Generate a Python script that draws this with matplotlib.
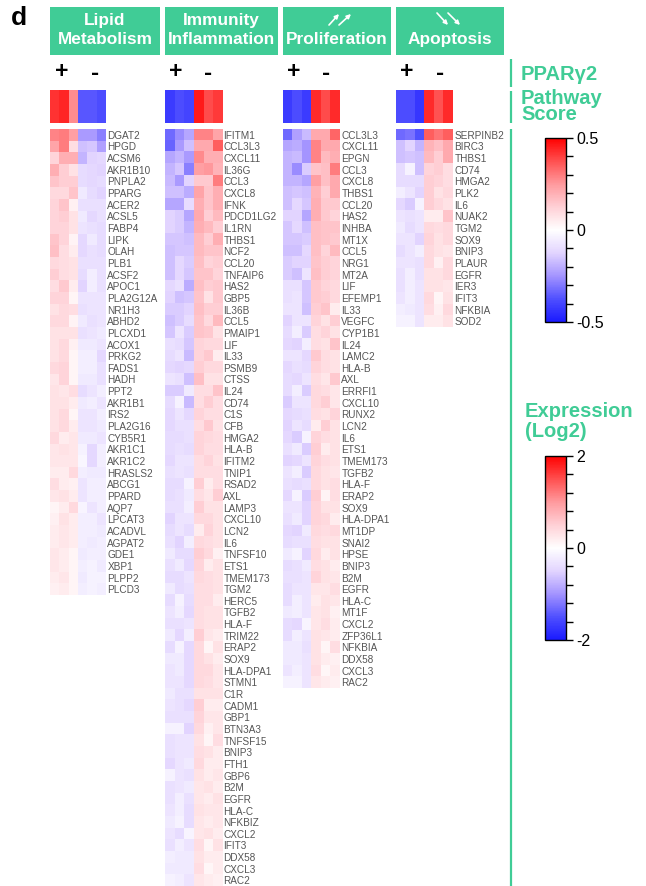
import numpy as np
import matplotlib
matplotlib.use("Agg")
import matplotlib.pyplot as plt
from matplotlib.cm import ScalarMappable
from matplotlib.colors import LinearSegmentedColormap, Normalize
from matplotlib.patches import Rectangle

plt.rcParams['font.family'] = ['Liberation Sans', 'DejaVu Sans']

W, H = 646, 886
GREEN = '#40cc96'

lipid_genes = ["DGAT2", "HPGD", "ACSM6", "AKR1B10", "PNPLA2", "PPARG", "ACER2", "ACSL5", "FABP4", "LIPK",
               "OLAH", "PLB1", "ACSF2", "APOC1", "PLA2G12A", "NR1H3", "ABHD2", "PLCXD1", "ACOX1", "PRKG2",
               "FADS1", "HADH", "PPT2", "AKR1B1", "IRS2", "PLA2G16", "CYB5R1", "AKR1C1", "AKR1C2", "HRASLS2",
               "ABCG1", "PPARD", "AQP7", "LPCAT3", "ACADVL", "AGPAT2", "GDE1", "XBP1", "PLPP2", "PLCD3"]
lipid_vals = [
    [1.15, 1.2, .95, -.95, -.95, -1.15], [.9, 1.2, .35, -.65, -.6, -.9], [.45, .8, .8, -.75, -.5, -.45],
    [.8, .5, .3, -.4, -.45, -.5], [.6, .5, .5, -.4, -.45, -.4], [.4, .4, .6, -.25, -.4, -.5],
    [.45, .6, .15, -.35, -.35, -.35], [.45, .5, .3, -.25, -.45, -.35], [.45, .45, .3, -.3, -.35, -.4],
    [.6, .45, .12, -.45, -.25, -.4], [.65, .35, .2, -.45, -.35, -.4], [.4, .35, .3, -.35, -.35, -.35],
    [.5, .35, .3, -.4, -.2, -.35], [.35, .55, .2, -.5, -.2, -.35], [.45, .45, .1, -.3, -.3, -.3],
    [.3, .4, .35, -.35, -.3, -.3], [.4, .4, .12, -.25, -.35, -.3], [.3, .3, .3, -.35, -.3, -.25],
    [.3, .4, .15, -.25, -.25, -.3], [.3, .4, .1, -.2, -.2, -.45], [.4, .45, .1, -.2, -.2, -.35],
    [.25, .45, .1, -.25, -.25, -.35], [.3, .25, .35, -.4, -.3, -.2], [.3, .3, .2, -.25, -.2, -.3],
    [.3, .4, .1, -.3, -.3, -.2], [.3, .4, .2, -.3, -.3, -.25], [.4, .2, .25, -.25, -.25, -.3],
    [.25, .3, .25, -.15, -.45, -.2], [.25, .25, .25, -.1, -.45, -.2], [.2, .2, .4, -.2, -.25, -.25],
    [.35, .2, .15, -.3, -.2, -.2], [.25, .3, .2, -.3, -.2, -.2], [.1, .2, .4, -.12, -.3, -.2],
    [.15, .3, .2, -.2, -.2, -.3], [.2, .25, .2, -.2, -.2, -.25], [.2, .25, .2, -.2, -.25, -.2],
    [.25, .2, .1, -.25, -.2, -.2], [.25, .2, .1, -.2, -.15, -.25], [.2, .25, .1, -.25, -.15, -.15],
    [.15, .2, .1, -.2, -.15, -.2]]

immune_genes = ["IFITM1", "CCL3L3", "CXCL11", "IL36G", "CCL3", "CXCL8", "IFNK", "PDCD1LG2", "IL1RN", "THBS1",
                "NCF2", "CCL20", "TNFAIP6", "HAS2", "GBP5", "IL36B", "CCL5", "PMAIP1", "LIF", "IL33",
                "PSMB9", "CTSS", "IL24", "CD74", "C1S", "CFB", "HMGA2", "HLA-B", "IFITM2", "TNIP1",
                "RSAD2", "AXL", "LAMP3", "CXCL10", "LCN2", "IL6", "TNFSF10", "ETS1", "TMEM173", "TGM2",
                "HERC5", "TGFB2", "HLA-F", "TRIM22", "ERAP2", "SOX9", "HLA-DPA1", "STMN1", "C1R", "CADM1",
                "GBP1", "BTN3A3", "TNFSF15", "BNIP3", "FTH1", "GBP6", "B2M", "EGFR", "HLA-C", "NFKBIZ",
                "CXCL2", "IFIT3", "DDX58", "CXCL3", "RAC2"]
immune_vals = [
    [-1.3, -1.05, -.85, 1.15, 1.15, .9], [-1.35, -.95, -.65, .85, .85, 1.4], [-.85, -.75, -.95, 1.1, .8, .8],
    [-.75, -.6, -1.15, .95, 1.0, .75], [-.7, -.95, -.5, .55, .55, 1.2], [-.65, -.65, -.8, .9, .6, .8],
    [-.85, -.85, -.4, .8, .6, .8], [-.5, -.55, -.85, .85, .5, .7], [-.5, -.55, -.75, .8, .7, .5],
    [-.6, -.6, -.65, .7, .5, .8], [-.65, -.6, -.6, .7, .6, .6], [-.65, -.45, -.55, .65, .45, .5],
    [-.65, -.45, -.6, .6, .6, .45], [-.45, -.35, -.8, .65, .5, .55], [-.5, -.65, -.6, .6, .3, .55],
    [-.55, -.55, -.5, .65, .5, .5], [-.65, -.55, -.4, .6, .4, .7], [-.6, -.3, -.55, .6, .55, .3],
    [-.35, -.4, -.6, .45, .4, .4], [-.4, -.3, -.7, .45, .55, .2], [-.45, -.5, -.45, .5, .4, .4],
    [-.3, -.35, -.65, .65, .3, .3], [-.55, -.55, -.25, .35, .35, .6], [-.4, -.15, -.7, .35, .5, .35],
    [-.45, -.3, -.45, .45, .35, .35], [-.45, -.35, -.35, .35, .55, .3], [-.4, -.4, -.35, .45, .4, .35],
    [-.4, -.35, -.4, .45, .35, .35], [-.45, -.3, -.3, .35, .45, .3], [-.35, -.3, -.35, .35, .35, .35],
    [-.4, -.4, -.15, .5, .2, .35], [-.4, -.35, -.25, .35, .25, .5], [-.35, -.35, -.2, .5, .3, .3],
    [-.5, -.3, -.3, .4, .4, .3], [-.4, -.3, -.4, .2, .45, .3], [-.35, -.5, -.2, .4, .35, .3],
    [-.25, -.4, -.4, .5, .4, .15], [-.35, -.25, -.45, .45, .2, .3], [-.4, -.4, -.3, .4, .35, .3],
    [-.25, -.4, -.35, .35, .35, .3], [-.4, -.15, -.4, .35, .35, .2], [-.3, -.2, -.45, .35, .3, .3],
    [-.35, -.35, -.3, .35, .3, .3], [-.25, -.45, -.2, .5, .25, .2], [-.4, -.15, -.45, .4, .1, .3],
    [-.25, -.25, -.45, .4, .3, .2], [-.3, -.25, -.45, .4, .4, .25], [-.3, -.3, -.45, .4, .35, .25],
    [-.25, -.35, -.35, .3, .3, .3], [-.3, -.35, -.45, .5, .2, .2], [-.35, -.35, -.35, .45, .25, .25],
    [-.15, -.15, -.5, .4, .15, .25], [-.35, -.3, -.3, .3, .1, .35], [-.35, -.3, -.3, .35, .3, .2],
    [-.45, -.3, -.25, .4, .2, .2], [-.15, -.3, -.35, .3, .2, .25], [-.35, -.3, -.25, .25, .3, .2],
    [-.35, -.2, -.35, .25, .2, .3], [-.3, -.2, -.4, .3, .25, .25], [-.25, -.15, -.4, .25, .2, .25],
    [-.3, -.4, -.12, .25, .3, .2], [-.35, -.2, -.3, .35, .1, .3], [-.2, -.25, -.25, .3, .2, .2],
    [-.25, -.25, -.25, .35, .08, .2], [-.15, -.2, -.3, .25, .2, .15]]

prolif_genes = ["CCL3L3", "CXCL11", "EPGN", "CCL3", "CXCL8", "THBS1", "CCL20", "HAS2", "INHBA", "MT1X",
                "CCL5", "NRG1", "MT2A", "LIF", "EFEMP1", "IL33", "VEGFC", "CYP1B1", "IL24", "LAMC2",
                "HLA-B", "AXL", "ERRFI1", "CXCL10", "RUNX2", "LCN2", "IL6", "ETS1", "TMEM173", "TGFB2",
                "HLA-F", "ERAP2", "SOX9", "HLA-DPA1", "MT1DP", "SNAI2", "HPSE", "BNIP3", "B2M", "EGFR",
                "HLA-C", "MT1F", "CXCL2", "ZFP36L1", "NFKBIA", "DDX58", "CXCL3", "RAC2"]
prolif_vals = [
    [-1.3, -.9, -.7, .85, .85, 1.35], [-.85, -.8, -1.0, 1.15, .85, .85], [-.75, -.7, -1.0, 1.15, .7, .8],
    [-.75, -1.05, -.55, .6, .65, 1.2], [-.75, -.75, -.85, .95, .65, .85], [-.65, -.6, -.65, .75, .5, .85],
    [-.65, -.45, -.6, .8, .55, .55], [-.5, -.5, -.85, .8, .55, .45], [-.6, -.45, -.65, .65, .6, .6],
    [-.6, -.6, -.55, .65, .6, .55], [-.65, -.65, -.45, .65, .45, .7], [-.55, -.5, -.5, .6, .5, .45],
    [-.55, -.65, -.3, .65, .5, .45], [-.35, -.35, -.6, .55, .45, .4], [-.35, -.3, -.6, .55, .5, .4],
    [-.3, -.3, -.65, .5, .6, .2], [-.5, -.3, -.3, .45, .3, .5], [-.4, -.2, -.55, .35, .45, .3],
    [-.45, -.5, -.2, .35, .3, .6], [-.3, -.3, -.45, .55, .35, .3], [-.45, -.35, -.4, .45, .35, .3],
    [-.4, -.45, -.3, .35, .25, .55], [-.4, -.2, -.55, .4, .35, .25], [-.55, -.3, -.3, .4, .5, .25],
    [-.45, -.4, -.35, .35, .3, .45], [-.5, -.3, -.4, .2, .5, .3], [-.45, -.55, -.15, .45, .35, .3],
    [-.35, -.25, -.55, .5, .2, .3], [-.5, -.45, -.3, .45, .35, .3], [-.3, -.2, -.55, .4, .3, .25],
    [-.35, -.4, -.35, .4, .3, .35], [-.45, -.15, -.55, .5, .12, .35], [-.3, -.3, -.5, .45, .3, .3],
    [-.35, -.25, -.5, .45, .4, .2], [-.45, -.5, -.25, .4, .35, .4], [-.4, -.35, -.35, .35, .3, .3],
    [-.25, -.15, -.5, .4, .2, .3], [-.4, -.35, -.25, .35, .3, .2], [-.35, -.35, -.3, .45, .3, .25],
    [-.4, -.3, -.3, .25, .25, .35], [-.4, -.2, -.3, .2, .3, .25], [-.25, -.2, -.3, .25, .3, .15],
    [-.4, -.45, -.12, .25, .35, .2], [-.4, -.2, -.3, .3, .25, .2], [-.25, -.25, -.35, .3, .1, .35],
    [-.25, -.25, -.3, .3, .2, .15], [-.3, -.2, -.3, .35, .08, .2], [-.15, -.15, -.3, .25, .2, .15]]

apop_genes = ["SERPINB2", "BIRC3", "THBS1", "CD74", "HMGA2", "PLK2", "IL6", "NUAK2", "TGM2", "SOX9",
              "BNIP3", "PLAUR", "EGFR", "IER3", "IFIT3", "NFKBIA", "SOD2"]
apop_vals = [
    [-1.3, -1.25, -1.5, 1.4, 1.25, 1.4], [-.65, -.5, -.75, .75, .65, .85], [-.65, -.6, -.65, .7, .5, .85],
    [-.4, -.15, -.65, .45, .5, .35], [-.4, -.4, -.4, .5, .45, .35], [-.2, -.3, -.5, .5, .3, .4],
    [-.45, -.55, -.15, .5, .4, .3], [-.3, -.35, -.3, .2, .2, .6], [-.25, -.4, -.3, .4, .35, .4],
    [-.3, -.3, -.5, .45, .3, .4], [-.4, -.3, -.2, .4, .3, .25], [-.3, -.3, -.35, .4, .15, .4],
    [-.35, -.2, -.35, .3, .3, .4], [-.35, -.2, -.3, .3, .3, .25], [-.3, -.2, -.3, .4, .1, .3],
    [-.2, -.25, -.3, .35, .15, .4], [-.15, -.15, -.3, .2, .2, .3]]

lipid_score = [.42, .44, .27, -.36, -.36, -.38]
immune_score = [-.42, -.38, -.4, .46, .38, .41]
prolif_score = [-.42, -.38, -.42, .43, .38, .43]
apop_score = [-.38, -.38, -.43, .43, .37, .43]

titles = ["Lipid\nMetabolism", "Immunity\nInflammation", "\nProliferation", "\nApoptosis"]
genes = [lipid_genes, immune_genes, prolif_genes, apop_genes]
values = [lipid_vals, immune_vals, prolif_vals, apop_vals]
scores = [lipid_score, immune_score, prolif_score, apop_score]

panel_x = [(50, 106), (165, 222), (283, 340), (396, 453)]
header_x = [(50, 160), (165, 278), (283, 391), (396, 504)]
sign_x = [(62, 95), (176, 208), (294, 326), (407, 440)]
ROW_H = 11.65

cmap = LinearSegmentedColormap.from_list("bwr_soft", [
    (0.0, '#1a1aff'), (0.125, '#5050ff'), (0.25, '#a494ff'), (0.375, '#e2d4ff'), (0.5, '#ffffff'),
    (0.625, '#ffd0d6'), (0.75, '#ff9a9e'), (0.875, '#ff5050'), (1.0, '#ff0000')])
norm_expr = Normalize(-2, 2)
norm_score = Normalize(-0.5, 0.5)


def px_axes(x0, y0, x1, y1):
    return fig.add_axes([x0 / W, 1 - y1 / H, (x1 - x0) / W, (y1 - y0) / H])


fig = plt.figure(figsize=(W / 100, H / 100), dpi=100)

# overlay in pixel coordinates for the headers and annotations
bg = fig.add_axes([0, 0, 1, 1])
bg.set_xlim(0, W)
bg.set_ylim(H, 0)
bg.axis('off')

bg.text(19, 18, "d", fontsize=19, fontweight='bold', ha='center', va='center')

for i in range(4):
    x0, x1 = header_x[i]
    bg.add_patch(Rectangle((x0, 7), x1 - x0, 48, color=GREEN, lw=0))
    lines = titles[i].split("\n")
    xc = (x0 + x1) / 2
    if lines[0]:
        bg.text(xc, 20.5, lines[0], color='white', fontsize=12.4, fontweight='bold', ha='center', va='center')
    bg.text(xc, 39.5, lines[1], color='white', fontsize=12.4, fontweight='bold', ha='center', va='center')

    bg.text(sign_x[i][0], 71, "+", fontsize=16.5, fontweight='bold', ha='center', va='center')
    bg.text(sign_x[i][1], 73, "-", fontsize=17.5, fontweight='bold', ha='center', va='center')

    px0, px1 = panel_x[i]
    ax = px_axes(px0, 90, px1, 123)
    ax.imshow([scores[i]], cmap=cmap, norm=norm_score, aspect='auto', interpolation='nearest')
    ax.axis('off')

    arr = np.array(values[i])
    ax = px_axes(px0, 129, px1, 129 + ROW_H * len(genes[i]))
    ax.imshow(arr, cmap=cmap, norm=norm_expr, aspect='auto', interpolation='nearest')
    ax.set_xticks([])
    ax.yaxis.tick_right()
    ax.set_yticks(range(len(genes[i])))
    ax.set_yticklabels(genes[i], fontsize=7.2, color='#555555')
    ax.tick_params(axis='y', length=0, pad=1)
    for s in ax.spines.values():
        s.set_visible(False)

# arrows in the two lower headers
for a, b in [((329, 25), (339, 14)), ((339, 25), (351, 14)), ((437, 13), (448, 25)), ((448, 13), (460, 25))]:
    bg.annotate("", xy=b, xytext=a, arrowprops=dict(arrowstyle='-|>', color='white', lw=1.2, mutation_scale=6,
                                                    shrinkA=0, shrinkB=0))

# green rules on the right
for y0, y1 in [(59, 87), (91, 123), (129, 886)]:
    bg.plot([511, 511], [y0, y1], color=GREEN, lw=1.6, solid_capstyle='butt')

bg.text(521, 74, "PPARγ2", color=GREEN, fontsize=14.5, fontweight='bold', ha='left', va='center')
bg.text(521, 98.5, "Pathway", color=GREEN, fontsize=14.5, fontweight='bold', ha='left', va='center')
bg.text(521, 114.5, "Score", color=GREEN, fontsize=14.5, fontweight='bold', ha='left', va='center')
bg.text(525, 411, "Expression", color=GREEN, fontsize=14.5, fontweight='bold', ha='left', va='center')
bg.text(525, 431, "(Log2)", color=GREEN, fontsize=14.5, fontweight='bold', ha='left', va='center')

# colour bars
for norm, top, labels in [(norm_score, 138, {0.5: "0.5", 0.0: "0", -0.5: "-0.5"}),
                          (norm_expr, 456, {2.0: "2", 0.0: "0", -2.0: "-2"})]:
    cax = px_axes(545, top, 566, top + 184)
    cb = fig.colorbar(ScalarMappable(norm=norm, cmap=cmap), cax=cax)
    ticks = np.linspace(norm.vmin, norm.vmax, 11)
    cb.set_ticks(ticks)
    cb.set_ticklabels([labels.get(round(float(t), 2), "") for t in ticks])
    cax.tick_params(length=5, width=1, labelsize=11.5, pad=2.5)
    cb.outline.set_linewidth(1)

fig.savefig("out.png", dpi=100)
